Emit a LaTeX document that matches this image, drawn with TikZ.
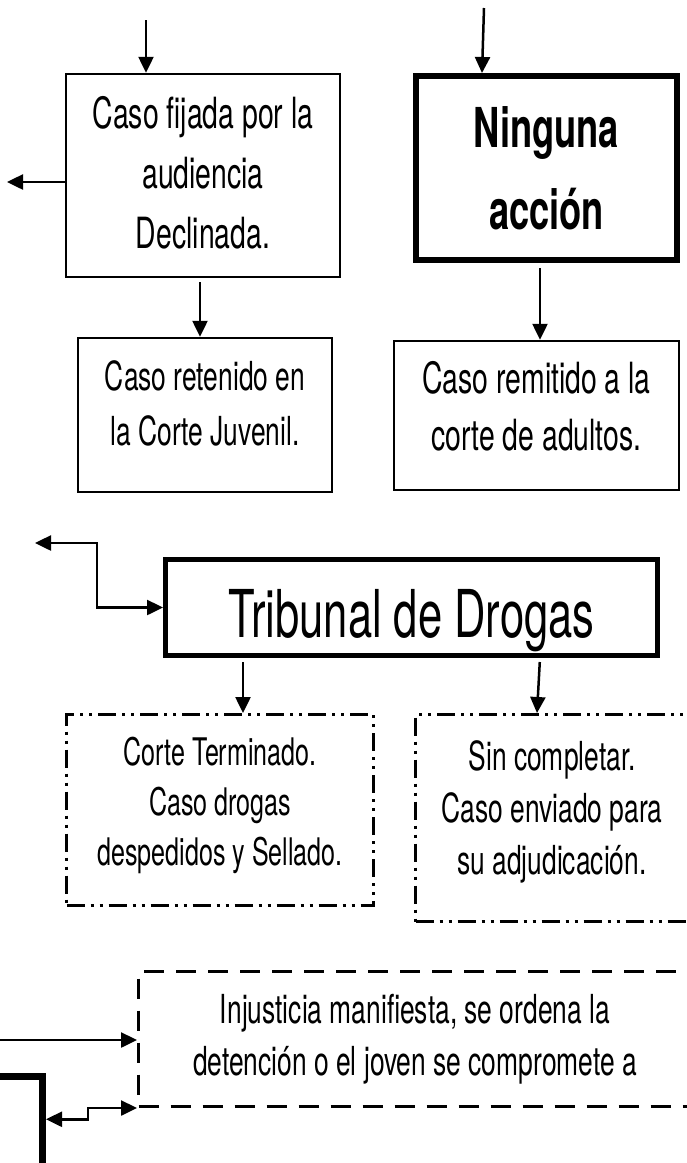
\documentclass[tikz,border=0pt]{standalone}
\usepackage{fontspec}
\setmainfont{TeX Gyre Heros}[FakeStretch=0.66]
\usetikzlibrary{arrows.meta}

\begin{document}
\begin{tikzpicture}
[x=1pt, y=-1pt, ->, >={Triangle[length=16pt,width=15pt]}, line width=2.5pt,
caja/.style={draw, line width=2.5pt, inner sep=0pt, align=center, font=\fontsize{40}{55}\selectfont},
cajagruesa/.style={caja, line width=6pt},
punteada/.style={caja, line width=3pt, dash pattern=on 18pt off 6pt on 3pt off 6pt on 3pt off 6pt},
guiones/.style={caja, line width=3pt, dash pattern=on 20pt off 12pt}
]
  \useasboundingbox (0,0) rectangle (687,1163);

  % primera fila
  \node[caja, minimum width=274pt, minimum height=203pt, font=\fontsize{43}{60}\selectfont]
        (fijada) at (203,175.5) {Caso fijada por la\\audiencia\\Declinada.\rule[-7pt]{0pt}{0pt}};
  \node[cajagruesa, minimum width=261pt, minimum height=184pt, font=\bfseries\fontsize{55}{82}\selectfont]
        (ninguna) at (546.5,168) {Ninguna\\acción};

  % segunda fila
  \node[caja, minimum width=254pt, minimum height=154pt]
        (retenido) at (205,415) {Caso retenido en\\la Corte Juvenil.\rule[-23pt]{0pt}{0pt}};
  \node[caja, minimum width=285pt, minimum height=149pt, font=\fontsize{43}{57}\selectfont]
        (remitido) at (536.5,415.5) {Caso remitido a la\\corte de adultos.\rule[-19pt]{0pt}{0pt}};

  % tribunal
  \node[caja, line width=5pt, minimum width=492pt, minimum height=96pt, font=\fontsize{66}{70}\selectfont]
        (tribunal) at (411.5,607.5) {\rule{0pt}{75pt}Tribunal de Drogas};

  \node[punteada, minimum width=307pt, minimum height=191pt, font=\fontsize{38}{50}\selectfont]
        (terminado) at (220,810) {Corte Terminado.\\Caso drogas\\despedidos y Sellado.\rule[-18pt]{0pt}{0pt}};
  \node[punteada, minimum width=273pt, minimum height=207pt, font=\fontsize{40}{52}\selectfont]
        (completar) at (552,818) {Sin completar.\\Caso enviado para\\su adjudicación.\rule[-21pt]{0pt}{0pt}};

  % abajo
  \node[guiones, minimum width=553pt, minimum height=135pt, font=\fontsize{40}{52}\selectfont]
        (injusticia) at (415,1039) {Injusticia manifiesta, se ordena la\\detención o el joven se compromete a};
  \node[caja, line width=7pt, minimum width=142.5pt, minimum height=173.5pt]
        (fin) at (-28.75,1163.25) {};

  \coordinate (a1) at (146,20);
  \coordinate (a2) at (7,182);
  \coordinate (a3) at (484,8);
  \coordinate (a4) at (35,543);
  \coordinate (a5) at (0,1040);

  \draw (a1) -- (a1 |- fijada.north);
  \draw (fijada.west |- a2) -- (a2);
  \draw[shorten <=4pt] ([xshift=-3pt]fijada.south) -- ([xshift=-5pt]retenido.north);
  \draw (a3) -- ([xshift=-64.5pt]ninguna.north);
  \draw[shorten <=5pt] ([xshift=-6.5pt]ninguna.south) -- ([xshift=3.5pt]remitido.north);

  \draw[<->] (a4) -- ++(62,0) |- (tribunal.west);
  \draw[shorten <=4pt] ([xshift=-168.5pt]tribunal.south) -- ([xshift=23pt]terminado.north);
  \draw[shorten <=4pt] ([xshift=128.5pt]tribunal.south) -- ([xshift=-15pt]completar.north);

  \draw (a5) -- (a5 -| injusticia.west);
  \draw[<->] ([yshift=44pt]fin.east) -- ++(42,0) |- (injusticia.south west);
\end{tikzpicture}
\end{document}
